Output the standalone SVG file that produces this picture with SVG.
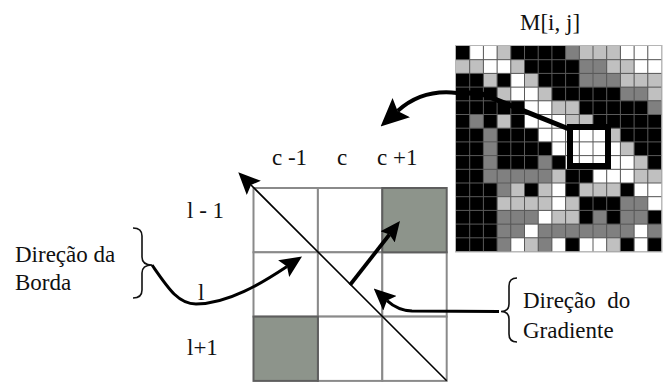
<svg xmlns="http://www.w3.org/2000/svg" width="667" height="383" viewBox="0 0 667 383">
  <style>
    text { font-family: "Liberation Serif", "Times New Roman", serif; font-size: 23px; fill: #111; }
    .k { fill: #000; }
    .g { fill: #808080; }
    .l { fill: #c0c0c0; }
    .w { fill: #fff; }
    .mgrid { stroke: #5a5a5a; stroke-width: 1; fill: none; }
    .cell { fill: #fff; stroke: #8a8a8a; stroke-width: 2; }
    .shade { fill: #8d948b; stroke: #5e5e5e; stroke-width: 2; }
    .conn { fill: none; stroke: #000; }
    .brace { fill: none; stroke: #111; stroke-width: 1.6; }
  </style>
  <defs>
    <marker id="headA" markerUnits="userSpaceOnUse" markerWidth="22" markerHeight="20" viewBox="0 0 22 20" refX="4" refY="10" orient="auto">
      <path d="M0,0 L22,10 L0,20 L4,10 z" fill="#000"/>
    </marker>
    <marker id="headB" markerUnits="userSpaceOnUse" markerWidth="20" markerHeight="18" viewBox="0 0 20 18" refX="3" refY="9" orient="auto">
      <path d="M0,0 L20,9 L0,18 L3,9 z" fill="#000"/>
    </marker>
    <marker id="headC" markerUnits="userSpaceOnUse" markerWidth="28" markerHeight="26" viewBox="0 0 28 26" refX="5" refY="13" orient="auto">
      <path d="M0,0 L28,13 L0,26 L5,13 z" fill="#000"/>
    </marker>
  </defs>

  <!-- image matrix M[i, j]: 15 x 15 grey-level pixels -->
  <g id="matrix">
    <text x="520" y="30">M[i, j]</text>
    <rect x="456" y="46" width="205.5" height="205.5" fill="#000"/>
    <g transform="translate(456,46) scale(13.7)">
      <!-- row 0 -->
      <rect class="w" x="1" y="0" width="1" height="1"/><rect class="w" x="2" y="0" width="1" height="1"/><rect class="l" x="3" y="0" width="1" height="1"/>
      <rect class="g" x="8" y="0" width="1" height="1"/><rect class="l" x="9" y="0" width="1" height="1"/><rect class="l" x="10" y="0" width="1" height="1"/><rect class="l" x="11" y="0" width="1" height="1"/>
      <rect class="w" x="12" y="0" width="1" height="1"/><rect class="w" x="13" y="0" width="1" height="1"/><rect class="w" x="14" y="0" width="1" height="1"/>
      <!-- row 1 -->
      <rect class="l" x="0" y="1" width="1" height="1"/><rect class="l" x="1" y="1" width="1" height="1"/><rect class="w" x="2" y="1" width="1" height="1"/><rect class="w" x="3" y="1" width="1" height="1"/><rect class="l" x="4" y="1" width="1" height="1"/>
      <rect class="g" x="9" y="1" width="1" height="1"/><rect class="g" x="10" y="1" width="1" height="1"/><rect class="l" x="11" y="1" width="1" height="1"/><rect class="l" x="12" y="1" width="1" height="1"/><rect class="w" x="13" y="1" width="1" height="1"/><rect class="w" x="14" y="1" width="1" height="1"/>
      <!-- row 2 -->
      <rect class="l" x="2" y="2" width="1" height="1"/><rect class="w" x="4" y="2" width="1" height="1"/><rect class="l" x="5" y="2" width="1" height="1"/>
      <rect class="g" x="9" y="2" width="1" height="1"/><rect class="g" x="10" y="2" width="1" height="1"/><rect class="g" x="11" y="2" width="1" height="1"/><rect class="l" x="12" y="2" width="1" height="1"/><rect class="l" x="13" y="2" width="1" height="1"/><rect class="l" x="14" y="2" width="1" height="1"/>
      <!-- row 3 -->
      <rect class="l" x="3" y="3" width="1" height="1"/><rect class="w" x="4" y="3" width="1" height="1"/><rect class="w" x="5" y="3" width="1" height="1"/><rect class="l" x="6" y="3" width="1" height="1"/>
      <rect class="g" x="12" y="3" width="1" height="1"/><rect class="g" x="13" y="3" width="1" height="1"/><rect class="l" x="14" y="3" width="1" height="1"/>
      <!-- row 4 -->
      <rect class="w" x="5" y="4" width="1" height="1"/><rect class="w" x="6" y="4" width="1" height="1"/><rect class="l" x="7" y="4" width="1" height="1"/><rect class="l" x="8" y="4" width="1" height="1"/>
      <rect class="g" x="14" y="4" width="1" height="1"/>
      <!-- row 5 -->
      <rect class="g" x="1" y="5" width="1" height="1"/><rect class="l" x="3" y="5" width="1" height="1"/><rect class="w" x="5" y="5" width="1" height="1"/><rect class="w" x="6" y="5" width="1" height="1"/><rect class="w" x="7" y="5" width="1" height="1"/><rect class="l" x="8" y="5" width="1" height="1"/><rect class="l" x="9" y="5" width="1" height="1"/>
      <!-- row 6 -->
      <rect class="g" x="2" y="6" width="1" height="1"/><rect class="w" x="6" y="6" width="1" height="1"/><rect class="w" x="7" y="6" width="1" height="1"/><rect class="w" x="8" y="6" width="1" height="1"/><rect class="w" x="9" y="6" width="1" height="1"/><rect class="w" x="10" y="6" width="1" height="1"/><rect class="l" x="11" y="6" width="1" height="1"/>
      <!-- row 7 -->
      <rect class="g" x="2" y="7" width="1" height="1"/><rect class="w" x="7" y="7" width="1" height="1"/><rect class="w" x="8" y="7" width="1" height="1"/><rect class="w" x="9" y="7" width="1" height="1"/><rect class="w" x="10" y="7" width="1" height="1"/><rect class="w" x="11" y="7" width="1" height="1"/><rect class="l" x="12" y="7" width="1" height="1"/>
      <!-- row 8 -->
      <rect class="g" x="2" y="8" width="1" height="1"/><rect class="g" x="6" y="8" width="1" height="1"/><rect class="w" x="8" y="8" width="1" height="1"/><rect class="w" x="9" y="8" width="1" height="1"/><rect class="w" x="10" y="8" width="1" height="1"/><rect class="w" x="11" y="8" width="1" height="1"/><rect class="w" x="12" y="8" width="1" height="1"/><rect class="l" x="13" y="8" width="1" height="1"/>
      <!-- row 9 -->
      <rect class="g" x="2" y="9" width="1" height="1"/><rect class="g" x="3" y="9" width="1" height="1"/><rect class="g" x="4" y="9" width="1" height="1"/><rect class="g" x="5" y="9" width="1" height="1"/><rect class="g" x="6" y="9" width="1" height="1"/><rect class="l" x="7" y="9" width="1" height="1"/>
      <rect class="w" x="10" y="9" width="1" height="1"/><rect class="w" x="11" y="9" width="1" height="1"/><rect class="w" x="12" y="9" width="1" height="1"/><rect class="l" x="13" y="9" width="1" height="1"/><rect class="l" x="14" y="9" width="1" height="1"/>
      <!-- row 10 -->
      <rect class="g" x="3" y="10" width="1" height="1"/><rect class="l" x="4" y="10" width="1" height="1"/><rect class="l" x="6" y="10" width="1" height="1"/><rect class="w" x="7" y="10" width="1" height="1"/>
      <rect class="l" x="9" y="10" width="1" height="1"/><rect class="l" x="10" y="10" width="1" height="1"/><rect class="l" x="11" y="10" width="1" height="1"/><rect class="w" x="13" y="10" width="1" height="1"/><rect class="w" x="14" y="10" width="1" height="1"/>
      <!-- row 11 -->
      <rect class="l" x="3" y="11" width="1" height="1"/><rect class="l" x="4" y="11" width="1" height="1"/><rect class="l" x="5" y="11" width="1" height="1"/><rect class="l" x="6" y="11" width="1" height="1"/><rect class="w" x="7" y="11" width="1" height="1"/><rect class="l" x="8" y="11" width="1" height="1"/>
      <rect class="g" x="12" y="11" width="1" height="1"/><rect class="g" x="13" y="11" width="1" height="1"/><rect class="w" x="14" y="11" width="1" height="1"/>
      <!-- row 12 -->
      <rect class="g" x="3" y="12" width="1" height="1"/><rect class="g" x="4" y="12" width="1" height="1"/><rect class="g" x="5" y="12" width="1" height="1"/><rect class="w" x="6" y="12" width="1" height="1"/><rect class="l" x="7" y="12" width="1" height="1"/><rect class="l" x="8" y="12" width="1" height="1"/>
      <rect class="g" x="10" y="12" width="1" height="1"/><rect class="g" x="12" y="12" width="1" height="1"/><rect class="g" x="13" y="12" width="1" height="1"/>
      <!-- row 13 -->
      <rect class="g" x="3" y="13" width="1" height="1"/><rect class="g" x="4" y="13" width="1" height="1"/><rect class="w" x="5" y="13" width="1" height="1"/><rect class="g" x="6" y="13" width="1" height="1"/><rect class="g" x="7" y="13" width="1" height="1"/><rect class="g" x="8" y="13" width="1" height="1"/>
      <rect class="g" x="9" y="13" width="1" height="1"/><rect class="g" x="10" y="13" width="1" height="1"/><rect class="g" x="11" y="13" width="1" height="1"/><rect class="g" x="12" y="13" width="1" height="1"/><rect class="w" x="13" y="13" width="1" height="1"/><rect class="g" x="14" y="13" width="1" height="1"/>
      <!-- row 14 -->
      <rect class="g" x="3" y="14" width="1" height="1"/><rect class="w" x="4" y="14" width="1" height="1"/><rect class="l" x="5" y="14" width="1" height="1"/><rect class="g" x="6" y="14" width="1" height="1"/><rect class="w" x="7" y="14" width="1" height="1"/>
      <rect class="w" x="9" y="14" width="1" height="1"/><rect class="w" x="10" y="14" width="1" height="1"/><rect class="l" x="11" y="14" width="1" height="1"/><rect class="w" x="13" y="14" width="1" height="1"/>
      <!-- pixel grid -->
      <path class="mgrid" vector-effect="non-scaling-stroke" d="M1,0V15M2,0V15M3,0V15M4,0V15M5,0V15M6,0V15M7,0V15M8,0V15M9,0V15M10,0V15M11,0V15M12,0V15M13,0V15M14,0V15M0,1H15M0,2H15M0,3H15M0,4H15M0,5H15M0,6H15M0,7H15M0,8H15M0,9H15M0,10H15M0,11H15M0,12H15M0,13H15M0,14H15"/>
    </g>
    <rect x="455.5" y="45.5" width="206.5" height="206.5" fill="none" stroke="#b5b5b5" stroke-width="1"/>
    <!-- 3x3 neighbourhood window and its leader line -->
    <rect x="570" y="127" width="38" height="39" fill="none" stroke="#000" stroke-width="6"/>
    <path d="M456,92 L482,94 L569,129" fill="none" stroke="#000" stroke-width="5"/>
  </g>

  <!-- 3x3 neighbourhood, enlarged -->
  <g id="neighbourhood">
    <rect class="cell" x="253.5" y="188" width="64.4" height="64.3"/>
    <rect class="cell" x="317.9" y="188" width="64.4" height="64.3"/>
    <rect class="cell" x="253.5" y="252.3" width="64.4" height="64.3"/>
    <rect class="cell" x="317.9" y="252.3" width="64.4" height="64.3"/>
    <rect class="cell" x="382.3" y="252.3" width="64.4" height="64.3"/>
    <rect class="cell" x="317.9" y="316.6" width="64.4" height="64.3"/>
    <rect class="cell" x="382.3" y="316.6" width="64.4" height="64.3"/>
    <rect class="shade" x="382.3" y="188" width="64.4" height="64.3"/>
    <rect class="shade" x="253.5" y="316.6" width="64.4" height="64.3"/>
  </g>

  <g id="col-labels">
    <text x="272" y="165">c -1</text>
    <text x="337" y="165">c</text>
    <text x="377" y="165">c +1</text>
  </g>
  <g id="row-labels">
    <text x="187" y="218">l - 1</text>
    <text x="198" y="300">l</text>
    <text x="187" y="355">l+1</text>
  </g>

  <g id="edge-label">
    <text x="15" y="262">Direção da</text>
    <text x="15" y="290">Borda</text>
    <path class="brace" d="M133,228 Q142,228 142,236 L142,257 Q142,265 152,265 Q142,265 142,273 L142,290 Q142,298 133,298"/>
  </g>

  <g id="gradient-label">
    <text x="523" y="308" xml:space="preserve">Direção  do</text>
    <text x="523" y="338">Gradiente</text>
    <path class="brace" d="M517,278 Q509,278 509,286 L509,304 Q509,311.5 501,311.5 Q509,311.5 509,319 L509,334 Q509,342 517,342"/>
  </g>

  <g id="connectors">
    <!-- edge line across the window -->
    <path class="conn" stroke-width="1.6" d="M446.7,380.7 L251,185" marker-end="url(#headA)"/>
    <!-- gradient vector -->
    <path class="conn" stroke-width="3.8" d="M350,285 L389.5,234.5" marker-end="url(#headB)"/>
    <!-- from the matrix window to the enlarged neighbourhood -->
    <path class="conn" stroke-width="4" d="M457,93 C432,90 412,98 397.6,111.1" marker-end="url(#headC)"/>
    <!-- edge direction pointer -->
    <path class="conn" stroke-width="3" d="M152,265 C168,288 178,304 196,304 C228,304 262,283 287,266.4" marker-end="url(#headA)"/>
    <!-- gradient direction pointer -->
    <path class="conn" stroke-width="3" d="M499,311.5 L412,311 C401,310.5 394,307 387,300.6" marker-end="url(#headA)"/>
  </g>
</svg>
